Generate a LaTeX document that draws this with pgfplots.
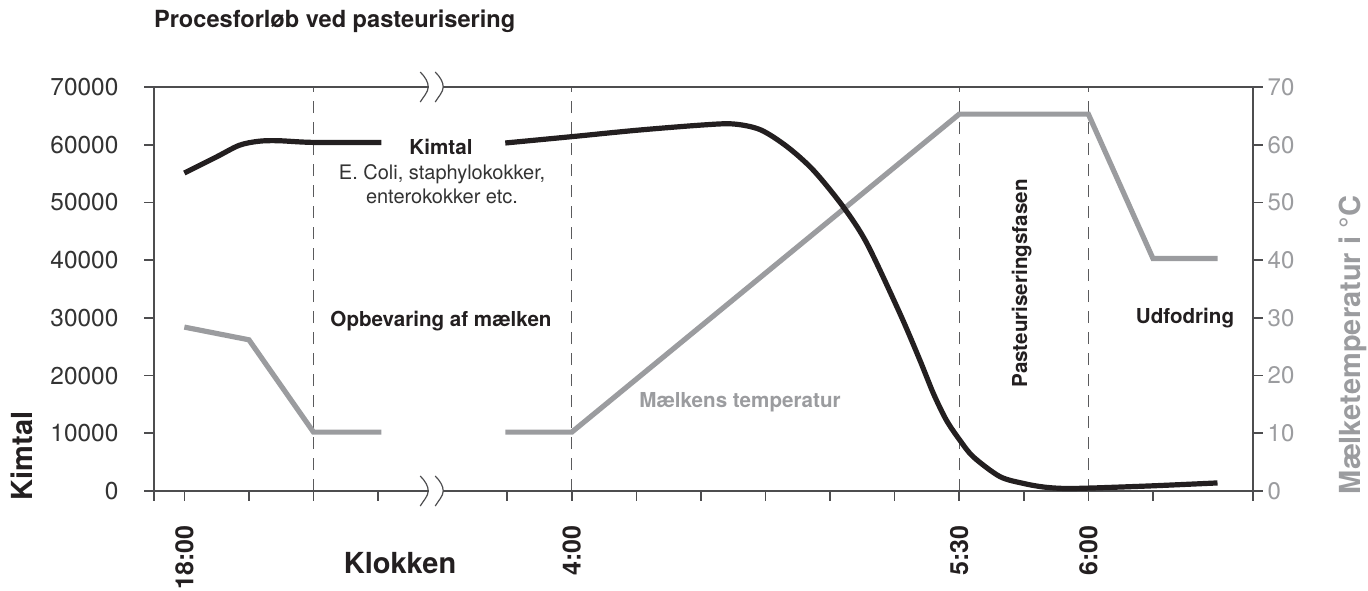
\documentclass[border=0pt]{standalone}
\usepackage{pgfplots}
\pgfplotsset{compat=1.18}
\usepackage{fontspec}
\setmainfont{TeX Gyre Heros}
\definecolor{blk}{RGB}{35,31,32}
\definecolor{gry}{RGB}{155,156,159}
\definecolor{axc}{RGB}{77,77,79}
\definecolor{lbl}{RGB}{51,51,51}
\definecolor{dsh}{RGB}{90,90,92}
\newcommand\brk[1]{\draw[axc, line width=0.6pt, shift={(#1)}] (-2pt,7.5pt) .. controls (0.5pt,5pt) and (2pt,2.5pt) .. (2pt,0pt) .. controls (2pt,-2.5pt) and (-0.5pt,-5pt) .. (-2pt,-7.5pt);}
\begin{document}
\begin{tikzpicture}
\path[use as bounding box] (-77pt,-49.5pt) rectangle (607pt,245.5pt);
\pgfplotsset{common/.style={width=549.5pt, height=202pt, scale only axis,
  at={(0pt,0pt)}, anchor=south west, xmin=-0.47, xmax=16.55,
  tick align=outside, major tick length=4.8pt,
  /pgf/number format/assume math mode=true,
  axis line style={axc, line width=0.8pt},
  every tick/.style={axc, line width=0.8pt}}}
% temperature axis (right)
\begin{axis}[common, ymin=0, ymax=70, axis x line=none, axis y line*=right,
  axis line style={-}, ytick={0,10,...,70},
  yticklabel style={gry, font=\fontsize{12}{12}\selectfont, anchor=west, xshift=-1pt}]
\draw[dsh, line width=0.6pt, dash pattern=on 6pt off 4.5pt] (axis cs:2,0) -- (axis cs:2,70);
\draw[dsh, line width=0.6pt, dash pattern=on 6pt off 4.5pt] (axis cs:6,0) -- (axis cs:6,70);
\draw[dsh, line width=0.6pt, dash pattern=on 6pt off 4.5pt] (axis cs:12,0) -- (axis cs:12,70);
\draw[dsh, line width=0.6pt, dash pattern=on 6pt off 4.5pt] (axis cs:14,0) -- (axis cs:14,70);
\addplot[gry, line width=2.6pt] coordinates {(0,28.4) (1,26.2) (2,10.2) (3.05,10.2)};
\addplot[gry, line width=2.6pt] coordinates {(4.97,10.2) (6,10.2) (12,65.3) (14,65.3) (15,40.3) (16,40.3)};
\end{axis}
% main axis (left)
\begin{axis}[common, ymin=0, ymax=70000, clip=false,
  xtick={-0.47,0,1,2,3,5,6,7,8,9,10,11,12,13,14,15,16.55},
  xticklabels={{},18:00,{},{},{},{},4:00,{},{},{},{},{},5:30,{},6:00,{},{}},
  xtick pos=bottom, ytick pos=left,
  ytick={0,10000,...,70000}, scaled y ticks=false,
  yticklabel style={lbl, font=\fontsize{12.2}{12}\selectfont, anchor=east, xshift=-9.5pt, /pgf/number format/1000 sep={}},
  xticklabel style={blk, rotate=90, anchor=east, xshift=-9pt, font=\bfseries\fontsize{12.5}{13}\selectfont}]
\addplot[blk, line width=2.6pt, smooth, tension=0.5] coordinates {(0,55100) (0.5,57900) (0.85,59900) (1.15,60600) (1.45,60700) (2,60400) (3.05,60400)};
\addplot[blk, line width=2.6pt, smooth, tension=0.5] coordinates {(4.97,60300) (6,61400) (7,62500) (8,63400) (8.5,63600) (8.92,62600) (9.33,59700) (9.74,55600) (10.2,49300) (10.57,42900) (11.08,30800) (11.39,22700) (11.6,16900) (11.8,12300) (12.01,8800) (12.22,5900) (12.63,2500) (13,1300) (13.3,700) (13.6,450) (14,500) (15,900) (16,1400)};
\coordinate (b1) at (axis cs:3.715,0);
\coordinate (t1) at (axis cs:3.715,70000);
\coordinate (b2) at (axis cs:3.947,0);
\coordinate (t2) at (axis cs:3.947,70000);
\end{axis}
\fill[white, shift={(b1)}] (2.3pt,-1.5pt) rectangle (9.2pt,1.5pt);
\fill[white, shift={(t1)}] (2.3pt,-1.5pt) rectangle (9.2pt,1.5pt);
\brk{b1}\brk{t1}\brk{b2}\brk{t2}
% texts
\node[anchor=base west, blk, font=\bfseries\fontsize{11.8}{12}\selectfont] at (-3.5pt,231.5pt) {Procesforløb ved pasteurisering};
\node[rotate=90, anchor=base, blk, font=\bfseries\fontsize{14.5}{14}\selectfont] at (-60.5pt,17.5pt) {Kimtal};
\node[anchor=base, blk, font=\bfseries\fontsize{14.5}{14}\selectfont] at (123pt,-41pt) {Klokken};
\node[rotate=90, anchor=base, gry, font=\bfseries\fontsize{14.5}{14}\selectfont] at (603pt,73pt) {Mælketemperatur i °C};
\node[anchor=base, blk, font=\bfseries\fontsize{10.3}{11}\selectfont] at (143.5pt,168.5pt) {Kimtal};
\node[anchor=base, lbl, font=\fontsize{10}{11}\selectfont] at (144pt,156pt) {E. Coli, staphylokokker,};
\node[anchor=base, lbl, font=\fontsize{10}{11}\selectfont] at (144pt,144pt) {enterokokker etc.};
\node[anchor=base, blk, font=\bfseries\fontsize{10.3}{11}\selectfont] at (143.5pt,82.5pt) {Opbevaring af mælken};
\node[anchor=base, gry, font=\bfseries\fontsize{10.3}{11}\selectfont] at (293pt,42pt) {Mælkens temperatur};
\node[anchor=base, blk, font=\bfseries\fontsize{10.3}{11}\selectfont] at (515.5pt,84pt) {Udfodring};
\node[rotate=90, anchor=base, blk, font=\bfseries\fontsize{10.3}{11}\selectfont] at (436.5pt,103.75pt) {Pasteuriseringsfasen};
\end{tikzpicture}
\end{document}
